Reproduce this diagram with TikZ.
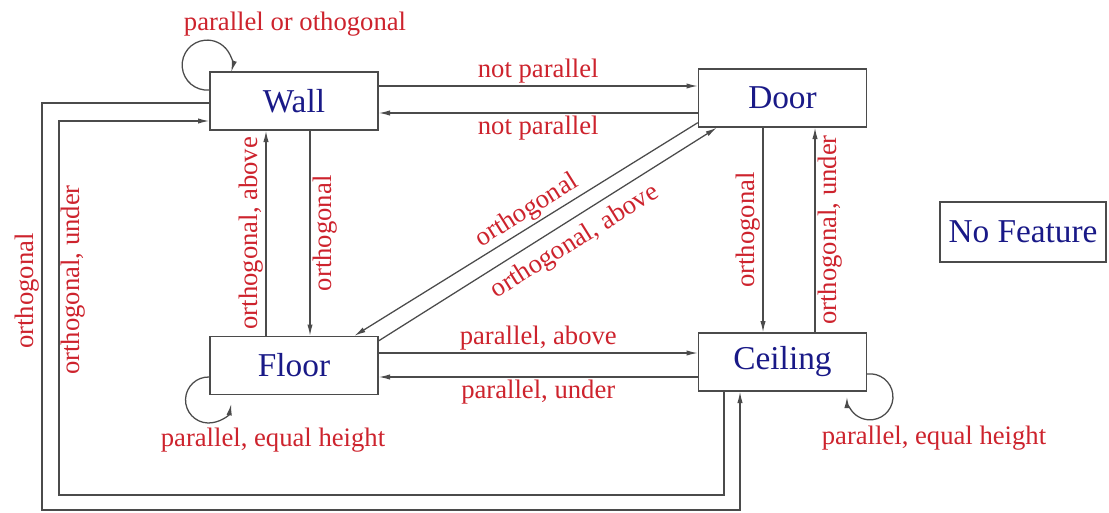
\documentclass[tikz,border=0pt]{standalone}
\usepackage{fontspec}
\setmainfont{Liberation Serif}
\usepackage{xcolor}
\usetikzlibrary{arrows.meta,calc}

\definecolor{lblred}{RGB}{205,35,45}
\definecolor{navy}{RGB}{25,25,135}
\definecolor{edgegray}{RGB}{75,75,75}

\begin{document}
\begin{tikzpicture}[x=0.75pt,y=0.75pt,
    state/.style={draw=edgegray, line width=1pt, minimum width=126pt, minimum height=43.5pt,
        inner sep=0pt, text=navy, font=\fontsize{25}{28}\selectfont},
    lbl/.style={text=lblred, font=\fontsize{20}{23}\selectfont, inner sep=1.5pt},
    arr/.style={draw=edgegray, line width=0.95pt, -{Latex[length=8.5pt,width=4pt]}}]
    \useasboundingbox (0,0) rectangle (1109,512);

    % States
    \node[state] (wall) at (294,411) {Wall};
    \node[state] (door) at (782.5,414) {Door};
    \node[state] (floor) at (294,146.5) {Floor};
    \node[state] (ceiling) at (782.5,150) {Ceiling};
    \node[state, minimum width=124.5pt, minimum height=45pt] (nofeat) at (1023,280) {No Feature};

    % Wall <-> Door
    \draw[arr] ($(wall.east)+(0,15)$) -- ($(door.west)+(0,12)$)
        node[lbl, midway, above] (lblWD) {not parallel};
    \draw[arr] ($(door.west)+(0,-15)$) -- ($(wall.east)+(0,-12)$)
        node[lbl, midway, below] (lblDW) {not parallel};

    % Wall <-> Floor
    \draw[arr] ($(wall.south)+(16,0)$) -- ($(floor.north)+(16,0)$)
        node[lbl, midway, rotate=90, anchor=north] (lblWF) {orthogonal};
    \draw[arr] ($(floor.north)+(-28,0)$) -- ($(wall.south)+(-28,0)$)
        node[lbl, midway, rotate=90, anchor=south] (lblFW) {orthogonal, above};

    % Door <-> Ceiling
    \draw[arr] ($(door.south)+(-19.5,0)$) -- ($(ceiling.north)+(-19.5,0)$)
        node[lbl, midway, rotate=90, anchor=south] (lblDC) {orthogonal};
    \draw[arr] ($(ceiling.north)+(32.5,0)$) -- ($(door.south)+(32.5,0)$)
        node[lbl, midway, rotate=90, anchor=north] (lblCD) {orthogonal, under};

    % Floor <-> Ceiling
    \draw[arr] ($(floor.east)+(0,12.5)$) -- ($(ceiling.west)+(0,9)$)
        node[lbl, midway, above] (lblFC) {parallel, above};
    \draw[arr] ($(ceiling.west)+(0,-15)$) -- ($(floor.east)+(0,-11.5)$)
        node[lbl, midway, below] (lblCF) {parallel, under};

    % Door <-> Floor (diagonal)
    \draw[arr] ($(door.south west)+(0,5)$) -- ($(floor.north west)+(145,0)$);
    \draw[arr] ($(floor.north east)+(0,-5)$) -- ($(door.south west)+(19,0)$);
    \node[lbl, rotate=32] (lblDF) at (527,301) {orthogonal};
    \node[lbl, rotate=32] (lblFD) at (575,270) {orthogonal, above};

    % Outer paths Wall <-> Ceiling
    \coordinate (outerBL) at (42,2);
    \coordinate (innerBL) at (59,17);
    \draw[arr] ($(wall.west)+(0,-2)$) -| (outerBL) -| ($(ceiling.south)+(-42.5,0)$);
    \draw[arr] ($(ceiling.south)+(-58.5,0)$) |- (innerBL) |- ($(wall.west)+(0,-20)$);
    \node[lbl, rotate=90, anchor=south] (lblWC) at (42,221) {orthogonal};
    \node[lbl, rotate=90, anchor=north] (lblCW) at (59,232) {orthogonal, under};

    % Self loops
    \draw[arr] ($(wall.west)+(0,11)$) arc[start angle=275, end angle=-16, radius=25];
    \node[lbl] (lblWW) at (295,488) {parallel or othogonal};
    \draw[arr] ($(floor.west)+(0,-11.5)$) arc[start angle=88, end angle=350, radius=23];
    \node[lbl] (lblFF) at (273,72) {parallel, equal height};
    \draw[arr] ($(ceiling.east)+(0,-12)$) arc[start angle=97, end angle=-180, radius=23];
    \node[lbl] (lblCC) at (934,74) {parallel, equal height};
\end{tikzpicture}
\end{document}
